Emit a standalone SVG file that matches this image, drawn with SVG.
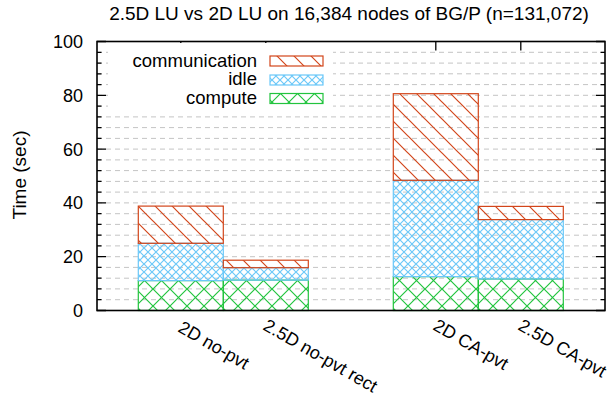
<svg xmlns="http://www.w3.org/2000/svg" width="610" height="407" viewBox="0 0 610 407">
<defs>
  <pattern id="pComm" patternUnits="userSpaceOnUse" width="17" height="17">
    <path d="M-2,-2 L19,19 M-2,15 L2,19 M15,-2 L19,2" stroke="#d2451a" stroke-width="1.2" fill="none"/>
  </pattern>
  <pattern id="pIdle" patternUnits="userSpaceOnUse" width="8" height="8">
    <path d="M-1,-1 L9,9 M-1,9 L9,-1" stroke="#6cc8f8" stroke-width="1.2" fill="none"/>
  </pattern>
  <pattern id="pComp" patternUnits="userSpaceOnUse" width="17" height="17">
    <path d="M-2,-2 L19,19 M-2,19 L19,-2" stroke="#22c43e" stroke-width="1.2" fill="none"/>
  </pattern>
</defs>
<style>
  text { font-family: "Liberation Sans", Arial, sans-serif; fill: #000; }
  .t { font-size: 19px; }
  .lg { font-size: 18.5px; text-anchor: end; }
  .tick { font-size: 18px; text-anchor: end; }
  .xl { font-size: 18px; }
  .grid { stroke: #c4c4c4; stroke-width: 1; stroke-dasharray: 5 4; fill: none; }
  .tk { stroke: #000; stroke-width: 1.3; fill: none; }
  .comm { fill: url(#pComm); stroke: #d2451a; stroke-width: 1.2; }
  .idle { fill: url(#pIdle); stroke: #6cc8f8; stroke-width: 1.2; }
  .comp { fill: url(#pComp); stroke: #22c43e; stroke-width: 1.2; }
</style>
<rect width="610" height="407" fill="#fff"/>
<text class="t" x="349" y="20" text-anchor="middle">2.5D LU vs 2D LU on 16,384 nodes of BG/P (n=131,072)</text>

<g id="grid">
  <path class="grid" d="M97,299.7H605 M97,288.9H605 M97,278.2H605 M97,267.4H605 M97,256.7H605 M97,245.9H605 M97,235.2H605 M97,224.4H605 M97,213.7H605 M97,202.9H605 M97,192.1H605 M97,181.4H605 M97,170.6H605 M97,159.9H605 M97,149.1H605 M97,138.4H605 M97,127.6H605 M97,116.9H605 M97,106.1H605 M97,95.3H605 M97,84.6H605 M97,73.8H605 M97,63.1H605 M97,52.3H605"/>
</g>

<g id="axes">
  <path class="tk" d="M97,310.5h9 M97,256.7h9 M97,202.9h9 M97,149.1h9 M97,95.3h9 M97,41.5h9 M605,310.5h-9 M605,256.7h-9 M605,202.9h-9 M605,149.1h-9 M605,95.3h-9 M605,41.5h-9"/>
  <path class="tk" d="M97,299.7h4.5 M97,288.9h4.5 M97,278.2h4.5 M97,267.4h4.5 M97,245.9h4.5 M97,235.2h4.5 M97,224.4h4.5 M97,213.7h4.5 M97,192.1h4.5 M97,181.4h4.5 M97,170.6h4.5 M97,159.9h4.5 M97,138.4h4.5 M97,127.6h4.5 M97,116.9h4.5 M97,106.1h4.5 M97,84.6h4.5 M97,73.8h4.5 M97,63.1h4.5 M97,52.3h4.5 M605,299.7h-4.5 M605,288.9h-4.5 M605,278.2h-4.5 M605,267.4h-4.5 M605,245.9h-4.5 M605,235.2h-4.5 M605,224.4h-4.5 M605,213.7h-4.5 M605,192.1h-4.5 M605,181.4h-4.5 M605,170.6h-4.5 M605,159.9h-4.5 M605,138.4h-4.5 M605,127.6h-4.5 M605,116.9h-4.5 M605,106.1h-4.5 M605,84.6h-4.5 M605,73.8h-4.5 M605,63.1h-4.5 M605,52.3h-4.5"/>
  <path class="tk" d="M180.8,41.5v9 M265.8,41.5v9 M435.8,41.5v9 M520.8,41.5v9"/>
  <text class="tick" x="83" y="317">0</text>
  <text class="tick" x="83" y="263.2">20</text>
  <text class="tick" x="83" y="209.4">40</text>
  <text class="tick" x="83" y="155.6">60</text>
  <text class="tick" x="83" y="101.8">80</text>
  <text class="tick" x="83" y="48">100</text>
  <text class="t" transform="translate(26,175) rotate(-90)" text-anchor="middle">Time (sec)</text>
  <text class="xl" transform="translate(177,331) rotate(30)">2D no-pvt</text>
  <text class="xl" transform="translate(262,329) rotate(30)">2.5D no-pvt rect</text>
  <text class="xl" transform="translate(432,329) rotate(30)">2D CA-pvt</text>
  <text class="xl" transform="translate(517,329) rotate(30)">2.5D CA-pvt</text>
</g>

<g id="legend">
  <rect x="108" y="43" width="225" height="68" fill="#fff"/>
  <text class="lg" x="257" y="66.5">communication</text>
  <text class="lg" x="257" y="85">idle</text>
  <text class="lg" x="257" y="103.5">compute</text>
  <rect class="comm" x="270" y="56" width="53" height="10"/>
  <rect class="idle" x="270" y="75" width="53" height="10"/>
  <rect class="comp" x="270" y="93.5" width="53" height="10"/>
</g>

<g id="bar-2D-no-pvt">
  <rect class="comp" x="138.3" y="280.6" width="85" height="29.9"/>
  <rect class="idle" x="138.3" y="243.3" width="85" height="37.3"/>
  <rect class="comm" x="138.3" y="206.1" width="85" height="37.2"/>
</g>
<g id="bar-2.5D-no-pvt-rect">
  <rect class="comp" x="223.3" y="280.1" width="85" height="30.4"/>
  <rect class="idle" x="223.3" y="267.7" width="85" height="12.4"/>
  <rect class="comm" x="223.3" y="260.2" width="85" height="7.5"/>
</g>
<g id="bar-2D-CA-pvt">
  <rect class="comp" x="393.3" y="276.6" width="85" height="33.9"/>
  <rect class="idle" x="393.3" y="180.3" width="85" height="96.3"/>
  <rect class="comm" x="393.3" y="93.7" width="85" height="86.6"/>
</g>
<g id="bar-2.5D-CA-pvt">
  <rect class="comp" x="478.3" y="279" width="85" height="31.5"/>
  <rect class="idle" x="478.3" y="219.6" width="85" height="59.4"/>
  <rect class="comm" x="478.3" y="206.4" width="85" height="13.2"/>
</g>

<g id="frame">
  <rect x="97" y="41.5" width="508" height="269" fill="none" stroke="#000" stroke-width="1.6"/>
</g>
</svg>
